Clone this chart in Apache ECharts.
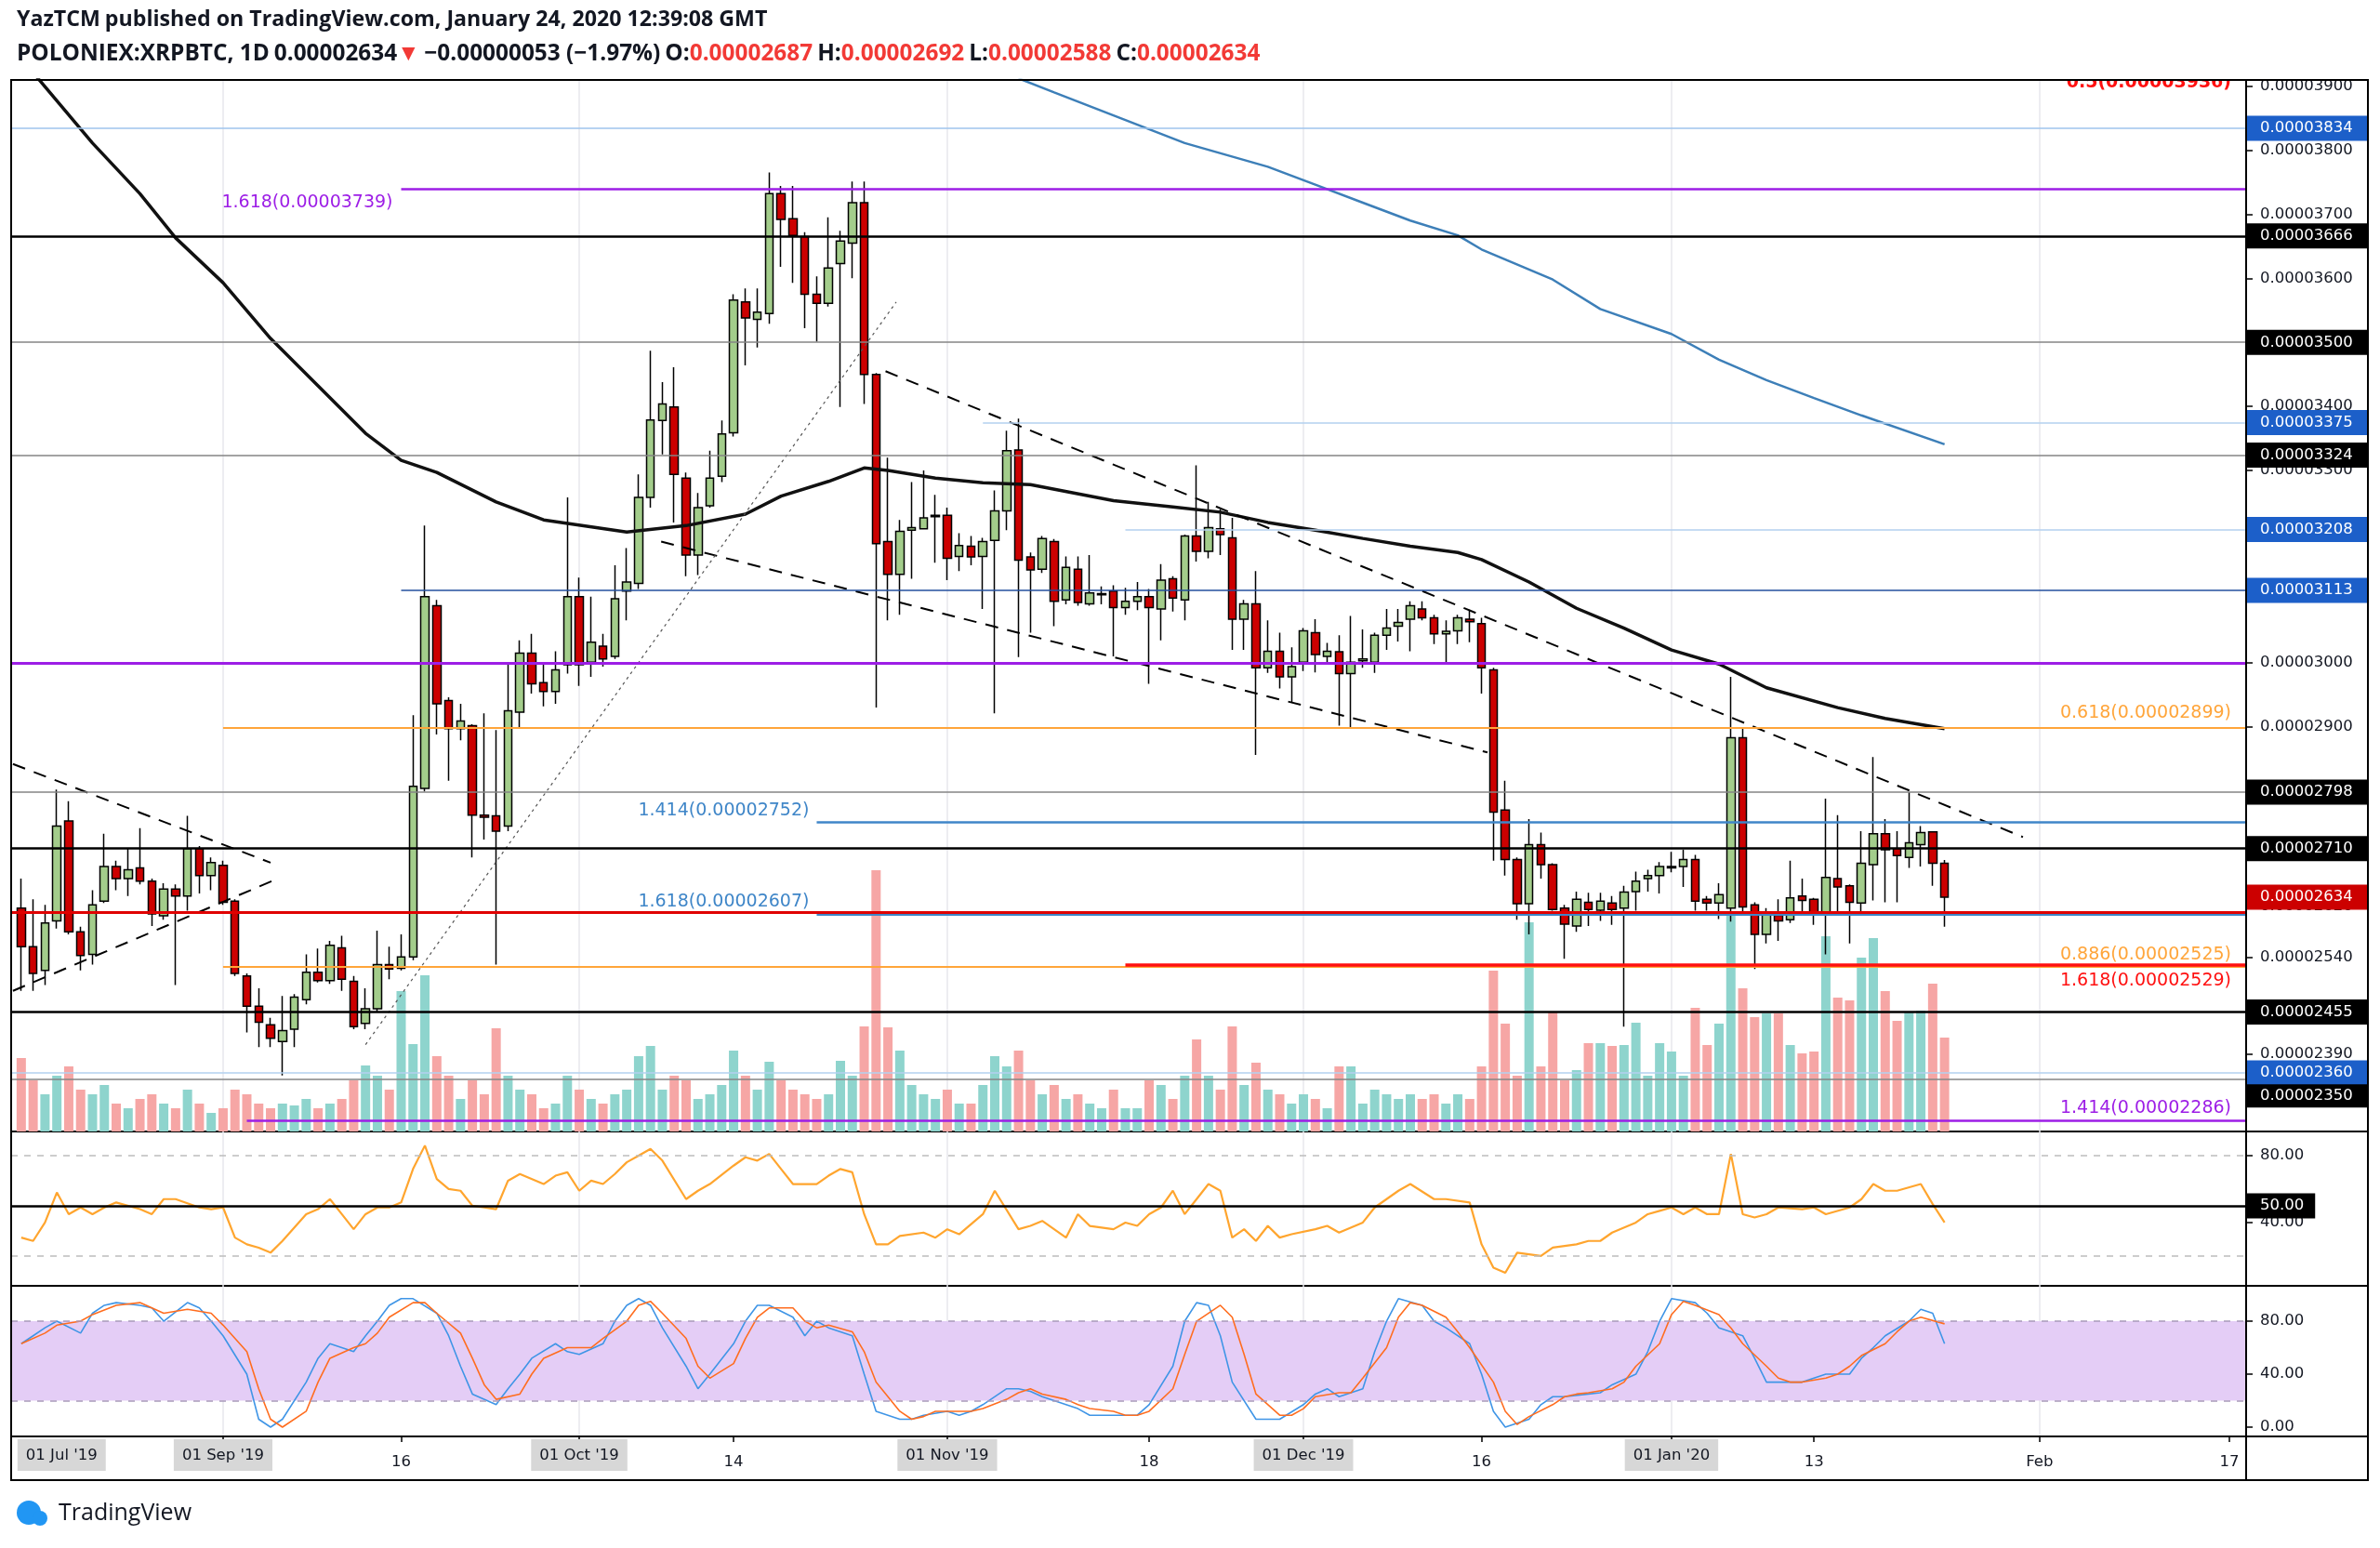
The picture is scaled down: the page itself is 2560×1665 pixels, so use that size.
<!DOCTYPE html>
<html>
<head>
<meta charset="utf-8">
<title>POLONIEX:XRPBTC 1D</title>
<script src="https://cdn.jsdelivr.net/npm/echarts@6.0.0/dist/echarts.min.js"></script>
<style>
html,body{margin:0;padding:0;background:#ffffff;}
#chart{width:2560px;height:1665px;}
</style>
</head>
<body>
<div id="chart"></div>
<script>
// Prices are in satoshi (1 sat = 0.00000001 BTC).
// Days are counted from 01 Sep 2019 (= day 0). First candle: 15 Aug 2019.
const FIRST_DAY = -17;

const open = [
2617,2557,2520,2597,2753,2580,2545,2628,2682,2663,
2680,2659,2605,2647,2636,2710,2668,2684,2628,2511,
2464,2435,2409,2428,2474,2517,2504,2555,2503,2437,
2460,2529,2523,2541,2804,3089,2941,2897,2902,2762,
2761,2745,2923,3015,2969,2955,2997,3103,3001,3026,
3010,3112,3124,3258,3378,3399,3288,3168,3245,3291,
3359,3563,3536,3545,3732,3693,3665,3575,3561,3623,
3655,3718,3450,3189,3138,3207,3209,3228,3230,3166,
3182,3166,3191,3237,3332,3165,3146,3189,3098,3146,
3092,3106,3112,3086,3096,3103,3084,3131,3098,3198,
3174,3209,3195,3068,3092,2992,3018,2978,3001,3047,
3010,3017,2983,3003,3001,3043,3057,3068,3084,3070,
3045,3050,3068,3061,2989,2770,2693,2624,2716,2685,
2617,2589,2626,2614,2625,2617,2643,2663,2668,2680,
2682,2693,2631,2625,2617,2883,2622,2576,2606,2599,
2636,2631,2608,2663,2652,2625,2685,2733,2710,2696,
2716,2736,2687];

const close = [
2557,2515,2594,2745,2580,2543,2622,2682,2663,2677,
2659,2608,2647,2636,2710,2668,2688,2626,2515,2464,
2439,2414,2426,2478,2517,2504,2559,2506,2432,2460,
2529,2522,2541,2807,3103,2936,2897,2909,2762,2759,
2737,2925,3015,2967,2955,2989,3103,2997,3032,3006,
3100,3126,3258,3379,3404,3294,3168,3242,3288,3357,
3566,3538,3547,3732,3692,3667,3575,3561,3616,3658,
3718,3450,3186,3138,3205,3211,3226,3230,3163,3183,
3165,3189,3237,3331,3160,3145,3194,3096,3149,3094,
3109,3108,3086,3096,3103,3086,3129,3101,3198,3174,
3211,3200,3068,3092,2992,3018,2978,2994,3050,3013,
3018,2983,3001,3006,3043,3054,3063,3089,3070,3045,
3049,3070,3064,2992,2767,2693,2624,2716,2685,2615,
2592,2631,2615,2628,2615,2642,2659,2668,2682,2682,
2693,2628,2625,2638,2883,2619,2576,2610,2597,2633,
2629,2608,2665,2650,2626,2687,2733,2708,2699,2719,
2735,2687,2634];

const high = [
2663,2631,2622,2802,2784,2588,2645,2733,2691,2710,
2742,2663,2656,2654,2761,2714,2696,2691,2631,2515,
2492,2446,2480,2483,2545,2554,2566,2574,2511,2492,
2582,2557,2576,2918,3214,3098,2946,2936,2904,2921,
2895,2998,3035,3045,2999,3018,3258,3133,3103,3045,
3152,3179,3294,3487,3438,3461,3297,3265,3331,3378,
3575,3584,3584,3765,3744,3744,3672,3603,3695,3674,
3751,3751,3452,3320,3223,3282,3300,3262,3242,3202,
3198,3195,3269,3362,3381,3172,3198,3193,3166,3166,
3168,3119,3121,3117,3126,3115,3154,3135,3200,3308,
3251,3239,3226,3098,3143,3066,3047,3024,3054,3068,
3031,3043,3073,3052,3047,3084,3084,3096,3096,3075,
3066,3075,3083,3070,2992,2816,2696,2756,2735,2687,
2622,2643,2641,2641,2636,2652,2674,2677,2689,2705,
2708,2700,2636,2656,2978,2899,2626,2617,2631,2691,
2663,2633,2788,2762,2654,2737,2853,2756,2737,2798,
2745,2737,2692];

const low = [
2488,2488,2497,2585,2576,2520,2529,2625,2645,2636,
2654,2589,2599,2497,2613,2640,2645,2622,2511,2423,
2400,2400,2356,2400,2467,2501,2499,2488,2428,2428,
2455,2506,2520,2536,2799,2888,2816,2879,2696,2724,
2529,2737,2897,2952,2932,2936,2983,2964,2978,2994,
3006,3066,3115,3242,3325,3219,3135,3137,3242,3282,
3353,3464,3492,3529,3618,3593,3522,3501,3556,3399,
3600,3404,2930,3066,3075,3131,3209,3156,3129,3143,
3152,3084,2921,3207,3009,3047,3140,3057,3091,3089,
3089,3091,3010,3075,3082,2967,3035,3080,3066,3158,
3163,3168,3020,3020,2856,2984,2960,2938,2987,2985,
2997,2902,2899,2992,2984,3020,3033,3018,3066,3029,
2997,3029,3032,2952,2691,2668,2599,2576,2663,2613,
2538,2580,2589,2597,2591,2432,2613,2643,2640,2673,
2650,2613,2613,2600,2596,2608,2522,2562,2566,2594,
2608,2591,2545,2610,2562,2608,2629,2626,2626,2680,
2682,2652,2588];

// relative volume (scale of the volume overlay)
const volume = [
79,55,40,60,70,45,40,50,30,25,
35,40,30,25,45,30,20,25,45,40,
30,25,30,28,35,25,30,35,55,71,
60,45,151,94,168,81,60,35,55,40,
111,60,45,40,25,30,60,45,35,30,
40,45,81,92,45,60,55,35,40,50,
87,60,45,75,55,45,40,35,40,76,
60,113,281,112,87,50,40,35,45,30,
30,50,81,70,87,55,40,50,35,40,
30,25,45,25,25,55,50,35,60,99,
60,45,113,50,74,45,40,30,40,35,
25,70,70,30,45,40,35,40,35,40,
30,40,35,70,173,116,60,225,70,128,
55,66,95,95,92,93,117,60,95,86,
60,133,93,116,232,154,123,127,127,93,
84,86,210,144,141,187,208,151,119,129,
130,159,101];

// moving averages [day, price]
const ma100 = [[-18,3965],[-11,3811],[-7,3732],[-4,3663],[0,3593],[4,3506],[8,3432],[12,3358],[15,3316],[18,3297],[23,3251],[27,3223],[34,3204],[39,3214],[44,3232],[47,3260],[51,3283],[54,3304],[56,3300],[60,3288],[64,3281],[68,3278],[75,3253],[80,3243],[84,3235],[88,3219],[92,3207],[96,3194],[100,3182],[104,3172],[106,3161],[110,3126],[114,3085],[118,3054],[122,3020],[126,2998],[130,2961],[136,2930],[140,2913],[145,2897]];
const ma200 = [[67,3912],[70,3890],[81,3811],[88,3774],[92,3746],[96,3718],[100,3690],[104,3667],[106,3645],[112,3598],[116,3552],[122,3513],[126,3473],[130,3441],[134,3413],[138,3386],[145,3341]];

// RSI [day, value]
const rsi = [[-17,31],[-16,29],[-15,40],[-14,58],[-13,45],[-12,49],[-11,45],[-10,49],[-9,52],[-7,48],[-6,45],[-5,54],[-4,54],[-2,49],[-1,48],[0,49],[1,31],[2,27],[3,25],[4,22],[5,29],[7,45],[8,48],[9,54],[10,45],[11,36],[12,45],[13,49],[14,49],[15,52],[16,72],[17,86],[18,66],[19,60],[20,59],[21,50],[22,49],[23,48],[24,65],[25,69],[27,63],[28,68],[29,70],[30,59],[31,65],[32,63],[33,69],[34,76],[35,80],[36,84],[37,77],[39,54],[40,59],[41,63],[43,74],[44,79],[45,77],[46,81],[47,72],[48,63],[50,63],[51,68],[52,72],[53,70],[54,45],[55,27],[56,27],[57,32],[59,34],[60,31],[61,36],[62,33],[64,45],[65,59],[67,36],[68,38],[69,41],[71,31],[72,45],[73,38],[75,36],[76,40],[77,38],[78,45],[79,49],[80,59],[81,45],[82,54],[83,63],[84,59],[85,31],[86,36],[87,29],[88,38],[89,31],[90,33],[92,36],[93,38],[94,34],[96,40],[97,49],[98,54],[99,59],[100,63],[102,54],[103,54],[105,52],[106,27],[107,13],[108,10],[109,22],[111,20],[112,25],[114,27],[115,29],[116,29],[117,34],[119,40],[120,45],[121,47],[122,49],[123,45],[124,49],[125,45],[126,45],[127,81],[128,45],[129,43],[130,45],[131,49],[133,48],[134,49],[135,45],[137,49],[138,54],[139,63],[140,59],[141,59],[143,63],[144,51],[145,40]];

// Stochastic RSI %K and %D [day, value]
const stochK = [[-17,63],[-16,69],[-15,75],[-14,80],[-12,71],[-11,86],[-10,92],[-9,94],[-7,92],[-6,90],[-5,80],[-3,94],[-2,90],[-1,80],[0,69],[2,40],[3,6],[4,0],[5,6],[7,34],[8,52],[9,63],[11,57],[12,69],[13,80],[14,92],[15,97],[16,97],[18,86],[19,69],[20,46],[21,25],[23,17],[24,29],[25,40],[26,52],[28,63],[29,57],[30,55],[32,63],[33,80],[34,92],[35,97],[36,92],[37,75],[39,46],[40,29],[41,40],[43,63],[44,80],[45,92],[46,92],[48,83],[49,69],[50,80],[51,75],[53,69],[54,40],[55,12],[57,6],[58,6],[59,9],[61,12],[62,9],[63,12],[64,17],[66,29],[67,29],[68,27],[69,23],[71,17],[72,14],[73,9],[75,9],[76,9],[77,9],[78,17],[80,46],[81,80],[82,94],[83,92],[84,69],[85,34],[87,6],[88,6],[89,6],[91,17],[92,25],[93,29],[94,23],[96,29],[97,57],[98,80],[99,97],[101,92],[102,80],[103,75],[105,63],[106,40],[107,12],[108,0],[110,6],[111,17],[112,23],[113,23],[115,25],[116,26],[117,32],[119,40],[120,57],[121,80],[122,97],[124,94],[125,86],[126,75],[128,69],[129,52],[130,34],[132,34],[133,34],[134,37],[135,40],[137,40],[138,52],[139,60],[140,69],[142,80],[143,89],[144,86],[145,63]];
const stochD = [[-17,63],[-15,71],[-14,77],[-12,80],[-11,85],[-9,92],[-7,94],[-5,86],[-3,89],[-1,86],[0,77],[2,57],[3,29],[4,6],[5,0],[7,12],[8,34],[9,52],[11,60],[12,63],[13,71],[14,83],[16,94],[17,94],[18,86],[20,71],[21,52],[22,32],[23,21],[25,25],[26,40],[27,52],[29,60],[30,60],[31,60],[32,67],[34,80],[35,92],[36,95],[37,86],[39,67],[40,46],[41,37],[43,48],[44,67],[45,83],[46,90],[48,90],[49,80],[50,75],[51,77],[53,72],[54,57],[55,34],[57,12],[58,6],[59,8],[60,12],[62,12],[63,12],[64,14],[66,21],[67,26],[68,29],[69,25],[71,21],[72,17],[73,14],[75,12],[76,9],[77,9],[78,12],[80,29],[81,55],[82,80],[84,92],[85,83],[86,55],[87,25],[89,9],[90,9],[91,14],[92,23],[94,26],[95,26],[96,37],[98,60],[99,83],[100,94],[101,92],[103,83],[104,72],[105,60],[107,34],[108,12],[109,2],[110,8],[112,17],[113,23],[114,25],[115,26],[117,29],[118,34],[119,46],[121,63],[122,85],[123,95],[124,92],[126,85],[127,75],[128,63],[130,46],[131,37],[132,34],[133,34],[135,37],[136,40],[137,46],[138,54],[140,63],[141,72],[142,80],[143,83],[145,78]];

// hand-drawn trend lines [day, price]
const triangleUpper = [[-17.7,2842],[4.0,2688]];
const triangleLower = [[-17.7,2488],[4.6,2663]];
const risingSupport = [[12.0,2404],[56.7,3563]];
const channelUpper = [[55.8,3455],[151.6,2728]];
const channelLower = [[36.9,3189],[106.5,2860]];

// horizontal levels (price) and the day where each drawing starts (null = from left edge)
const levelPrices = [3834,3739,3666,3500,3375,3324,3208,3113,3000,2899,2798,2752,2710,2611,2607,2525,2529,2455,2360,2350,2286];
const levelStart  = [null,15,null,null,64,null,76,15,null,0,null,50,null,null,50,0,76,null,null,null,2];
const lastPrice = 2634;
const fibLevelPrices = [3936,3739,2899,2752,2607,2529,2525,2286];
const fibLevelRatios = ['0.5','1.618','0.618','1.414','1.618','1.618','0.886','1.414'];

// axis ticks
const priceTicks = [3900,3800,3700,3600,3400,3300,3100,3000,2900,2620,2540,2390];
const rsiTicks = [80,40];
const stochTicks = [80,40,0];
const monthDays = [0,30,61,91,122,153];
const xTickDays = [0,15,30,43,61,78,91,106,122,134,153,169];
const xLabelDays = [-13.6,0,15,30,43,61,78,91,106,122,134,153,169];
const xLabelTexts = ["01 Jul '19","01 Sep '19","16","01 Oct '19","14","01 Nov '19","18","01 Dec '19","16","01 Jan '20","13","Feb","17"];

// ---------------------------------------------------------------------------
const X_MIN = -17.85, X_MAX = 170.4;
const Y_MIN = 2268.5, Y_MAX = 3909.5;
const FONT = 'DejaVu Sans';
const HFONT = 'Open Sans';
const C_UP = '#a3cd8b', C_DN = '#cc0000';
const V_UP = '#8ed4cd', V_DN = '#f6a6a5';
const BLUE_BOX = '#1c5fc9', BLACK_BOX = '#000000', RED_BOX = '#cc0000';
const PURPLE = '#9d1ee6', ORANGE = '#ffa53a', FIBBLUE = '#3f86c8';

const fmtPrice = v => (v / 1e8).toFixed(8);

const levelStyle = {
  3834: {color:'#9fc4ec', width:1.5, box:BLUE_BOX},
  3739: {color:PURPLE, width:2.5},
  3666: {color:'#000', width:2.5, box:BLACK_BOX},
  3500: {color:'#858585', width:1.5, box:BLACK_BOX},
  3375: {color:'#b3d0ef', width:1.5, box:BLUE_BOX},
  3324: {color:'#858585', width:1.5, box:BLACK_BOX},
  3208: {color:'#b3d0ef', width:1.5, box:BLUE_BOX},
  3113: {color:'#234f9e', width:1.5, box:BLUE_BOX},
  3000: {color:PURPLE, width:3},
  2899: {color:ORANGE, width:2},
  2798: {color:'#858585', width:1.5, box:BLACK_BOX},
  2752: {color:FIBBLUE, width:2.5},
  2710: {color:'#000', width:2.5, box:BLACK_BOX},
  2611: {color:'#e00000', width:3},
  2607: {color:FIBBLUE, width:2},
  2525: {color:ORANGE, width:2},
  2529: {color:'#ff1010', width:3.5},
  2455: {color:'#000', width:2.5, box:BLACK_BOX},
  2360: {color:'#b3d0ef', width:1.5, box:BLUE_BOX},
  2350: {color:'#858585', width:1.5, box:BLACK_BOX, pushDown:36},
  2286: {color:PURPLE, width:2.5}
};
// shiftY: text moved below (+) or above (-) its line for start-side labels
const fibStyle = {
  3936: {color:'#ff1010', pos:'insideEndBottom', distance:[16,-8], bold:true},
  3739: {color:PURPLE, pos:'start', distance:9, shiftY:15},
  2899: {color:ORANGE, pos:'insideEndTop', distance:[16,4]},
  2752: {color:FIBBLUE, pos:'start', distance:8, shiftY:-12},
  2607: {color:FIBBLUE, pos:'start', distance:8, shiftY:-14},
  2529: {color:'#ff1010', pos:'insideEndBottom', distance:[16,7]},
  2525: {color:ORANGE, pos:'insideEndTop', distance:[16,2]},
  2286: {color:PURPLE, pos:'insideEndTop', distance:[16,2]}
};

function boxLabel(bg, text, pushDown, padR) {
  const t = {color:'#ffffff', backgroundColor:bg, padding:[4, padR == null ? 16 : padR, 4, 15],
    fontSize:16.5, lineHeight:19, fontFamily:FONT};
  if (pushDown) {
    return {show:true, position:'end', distance:0, formatter:'{s| }\n{t|' + text + '}',
      rich:{s:{height:pushDown, lineHeight:pushDown, fontSize:10}, t:t}};
  }
  return Object.assign({show:true, position:'end', distance:0, formatter:text}, t);
}
function fibLabel(p) {
  const i = fibLevelPrices.indexOf(p);
  const s = fibStyle[p];
  const text = fibLevelRatios[i] + '(' + fmtPrice(p) + ')';
  const t = {color:s.color, fontSize:19, lineHeight:22, fontFamily:FONT, fontWeight: s.bold ? 'bold' : 'normal'};
  if (s.shiftY) {
    const gap = Math.abs(s.shiftY) * 2;
    const fmt = s.shiftY > 0 ? '{s| }\n{t|' + text + '}' : '{t|' + text + '}\n{s| }';
    return {show:true, position:s.pos, distance:s.distance, formatter:fmt,
      rich:{s:{height:gap, lineHeight:gap, fontSize:10}, t:t}};
  }
  return Object.assign({show:true, position:s.pos, distance:s.distance, formatter:text}, t);
}

const priceLineData = levelPrices.map((p, i) => {
  const s = levelStyle[p];
  const from = {coord:[levelStart[i] == null ? X_MIN : levelStart[i], p],
    lineStyle:{color:s.color, width:s.width, type:'solid'}};
  if (s.box) from.label = boxLabel(s.box, fmtPrice(p), s.pushDown);
  else if (fibStyle[p]) from.label = fibLabel(p);
  else from.label = {show:false};
  return [from, {coord:[X_MAX, p]}];
});
// current price tag
priceLineData.push([{coord:[X_MIN, lastPrice], lineStyle:{color:'rgba(0,0,0,0)', width:0},
  label: boxLabel(RED_BOX, fmtPrice(lastPrice))}, {coord:[X_MAX, lastPrice]}]);
// the 0.5 level lies above the visible range: its tag is pinned at the top edge
priceLineData.push([{coord:[X_MIN, Y_MAX], lineStyle:{color:'rgba(0,0,0,0)', width:0}, label: fibLabel(3936)},
  {coord:[X_MAX, Y_MAX]}]);

const candleData = open.map((o, i) => [FIRST_DAY + i, o, close[i], low[i], high[i]]);
const volData = volume.map((v, i) => ({value:[FIRST_DAY + i, v],
  itemStyle:{color: close[i] >= open[i] ? V_UP : V_DN}}));

function trend(data, opts) {
  return Object.assign({type:'line', xAxisIndex:0, yAxisIndex:0, data:data, symbol:'none',
    silent:true, z:4, lineStyle:{color:'#000', width:2, type:[14,10]}}, opts || {});
}

const gridBase = {left:12, width:2404, show:true, borderColor:'#000', borderWidth:2, backgroundColor:'rgba(0,0,0,0)'};
const splitX = {show:true, lineStyle:{color:'#e7e7ec', width:1.5}};
const yLine = {show:true, onZero:false, lineStyle:{color:'#000', width:2}};

const option = {
  animation:false,
  backgroundColor:'#ffffff',
  title:[
    {left:13, top:5, text:'{b|YazTCM} {n|published on TradingView.com, January 24, 2020 12:39:08 GMT}',
      textStyle:{rich:{
        b:{fontFamily:HFONT, fontSize:23.2, fontWeight:'bold', color:'#131722'},
        n:{fontFamily:HFONT, fontSize:23.2, color:'#131722'}}}},
    {left:13, top:41, text:'{b|POLONIEX:XRPBTC, 1D} {n|0.00002634}{r|▼} {n|−0.00000053 (−1.97%)} {b|O:}{r|0.00002687} {b|H:}{r|0.00002692} {b|L:}{r|0.00002588} {b|C:}{r|0.00002634}',
      textStyle:{rich:{
        b:{fontFamily:HFONT, fontSize:24.4, fontWeight:'bold', color:'#131722'},
        n:{fontFamily:HFONT, fontSize:24.4, color:'#131722'},
        r:{fontFamily:HFONT, fontSize:24.4, color:'#f23a36'}}}}
  ],
  grid:[
    Object.assign({top:86, height:1131}, gridBase),
    Object.assign({top:1217, height:166}, gridBase),
    Object.assign({top:1383, height:162}, gridBase)
  ],
  xAxis:[
    {type:'value', gridIndex:0, min:X_MIN, max:X_MAX, axisLine:{show:false, onZero:false},
      axisTick:{show:false, customValues:monthDays}, axisLabel:{show:false}, splitLine:splitX},
    {type:'value', gridIndex:1, min:X_MIN, max:X_MAX, axisLine:{show:false, onZero:false},
      axisTick:{show:false, customValues:monthDays}, axisLabel:{show:false}, splitLine:splitX},
    {type:'value', gridIndex:2, min:X_MIN, max:X_MAX, position:'bottom',
      axisLine:{show:false, onZero:false}, splitLine:{show:false},
      axisTick:{show:true, customValues:xTickDays, length:6, lineStyle:{color:'#000', width:1.5}},
      axisLabel:{show:true, customValues:xLabelDays, margin:10, color:'#131722',
        fontFamily:FONT, fontSize:16.5,
        formatter: v => {
          const i = xLabelDays.findIndex(d => Math.abs(d - v) < 1e-6);
          if (i < 0) return '';
          const t = xLabelTexts[i];
          return t.indexOf('01 ') === 0 ? '{m|' + t + '}' : '{d|' + t + '}';
        },
        rich:{
          m:{backgroundColor:'#d7d7d7', padding:[9,9,8,9], fontFamily:FONT, fontSize:16.5, color:'#131722', lineHeight:20},
          d:{padding:[15,0,0,0], fontFamily:FONT, fontSize:16.5, color:'#131722', lineHeight:20}
        }}},
    {type:'value', gridIndex:2, min:X_MIN, max:X_MAX, position:'top', axisLine:{show:false, onZero:false},
      axisTick:{show:false, customValues:monthDays}, axisLabel:{show:false}, splitLine:splitX}
  ],
  yAxis:[
    {type:'value', gridIndex:0, position:'right', min:Y_MIN, max:Y_MAX, splitLine:{show:false},
      axisLine:yLine,
      axisTick:{show:true, customValues:priceTicks, length:7, lineStyle:{color:'#000', width:1.5}},
      axisLabel:{show:true, customValues:priceTicks, margin:15, color:'#131722', fontFamily:FONT,
        fontSize:16.5, formatter: v => fmtPrice(v)}},
    {type:'value', gridIndex:0, show:false, min:0, max:1131, axisLine:{show:false, onZero:false}},
    {type:'value', gridIndex:1, position:'right', min:2.2, max:94.4, splitLine:{show:false},
      axisLine:yLine,
      axisTick:{show:true, customValues:rsiTicks, length:7, lineStyle:{color:'#000', width:1.5}},
      axisLabel:{show:true, customValues:rsiTicks, margin:15, color:'#131722', fontFamily:FONT,
        fontSize:16.5, formatter: v => v.toFixed(2)}},
    {type:'value', gridIndex:2, position:'right', min:-7, max:106.7, splitLine:{show:false},
      axisLine:yLine,
      axisTick:{show:true, customValues:stochTicks, length:7, lineStyle:{color:'#000', width:1.5}},
      axisLabel:{show:true, customValues:stochTicks, margin:15, color:'#131722', fontFamily:FONT,
        fontSize:16.5, formatter: v => v.toFixed(2)}}
  ],
  series:[
    {type:'bar', name:'Volume', xAxisIndex:0, yAxisIndex:1, data:volData, barWidth:10, silent:true, z:1},
    {type:'candlestick', name:'XRPBTC', xAxisIndex:0, yAxisIndex:0, data:candleData, barWidth:9, z:3,
      itemStyle:{color:C_UP, color0:C_DN, borderColor:'#000', borderColor0:'#000', borderWidth:1.5},
      markLine:{silent:true, symbol:'none', animation:false, data:priceLineData}},
    {type:'line', name:'MA100', xAxisIndex:0, yAxisIndex:0, data:ma100, symbol:'none', silent:true, z:4,
      lineStyle:{color:'#111', width:3.5}},
    {type:'line', name:'MA200', xAxisIndex:0, yAxisIndex:0, data:ma200, symbol:'none', silent:true, z:4,
      lineStyle:{color:'#3d7fb8', width:2.5}},
    trend(triangleUpper),
    trend(triangleLower),
    trend(channelUpper),
    trend(channelLower),
    trend(risingSupport, {lineStyle:{color:'#555', width:1.2, type:[3,4]}}),
    {type:'line', name:'RSI', xAxisIndex:1, yAxisIndex:2, data:rsi, symbol:'none', silent:true, z:3,
      lineStyle:{color:'#ffa52e', width:2.2},
      markLine:{silent:true, symbol:'none', animation:false, data:[
        {yAxis:80, lineStyle:{color:'#bdbdbd', width:1.5, type:[7,7]}, label:{show:false}},
        {yAxis:20, lineStyle:{color:'#bdbdbd', width:1.5, type:[7,7]}, label:{show:false}},
        {yAxis:50, lineStyle:{color:'#000', width:2.5, type:'solid'}, label:boxLabel(BLACK_BOX, '50.00', 0, 12)}
      ]}},
    {type:'line', name:'%K', xAxisIndex:2, yAxisIndex:3, data:stochK, symbol:'none', silent:true, z:3,
      lineStyle:{color:'#3f95e6', width:1.6},
      markArea:{silent:true, itemStyle:{color:'#e4cdf6'}, data:[[{yAxis:20},{yAxis:80}]]},
      markLine:{silent:true, symbol:'none', animation:false, data:[
        {yAxis:80, lineStyle:{color:'#a99abb', width:1.5, type:[7,7]}, label:{show:false}},
        {yAxis:20, lineStyle:{color:'#a99abb', width:1.5, type:[7,7]}, label:{show:false}}
      ]}},
    {type:'line', name:'%D', xAxisIndex:2, yAxisIndex:3, data:stochD, symbol:'none', silent:true, z:3,
      lineStyle:{color:'#ff6d1f', width:1.6}}
  ],
  graphic:[
    {type:'rect', z:100, silent:true, shape:{x:2100, y:0, width:316, height:85}, style:{fill:'#ffffff'}},
    {type:'rect', z:101, silent:true, shape:{x:12, y:86, width:2535, height:1506}, style:{fill:'none', stroke:'#000', lineWidth:2}},
    {type:'line', z:101, silent:true, shape:{x1:2416, y1:1217, x2:2547, y2:1217}, style:{stroke:'#000', lineWidth:2}},
    {type:'line', z:101, silent:true, shape:{x1:2416, y1:1383, x2:2547, y2:1383}, style:{stroke:'#000', lineWidth:2}},
    {type:'line', z:101, silent:true, shape:{x1:12, y1:1545, x2:2547, y2:1545}, style:{stroke:'#000', lineWidth:2}},
    {type:'line', z:101, silent:true, shape:{x1:2416, y1:86, x2:2416, y2:1592}, style:{stroke:'#000', lineWidth:2}},
    {type:'group', left:18, top:1614, silent:true, children:[
      {type:'circle', shape:{cx:16, cy:16, r:13}, style:{fill:'#2196f3'}},
      {type:'circle', shape:{cx:28, cy:22, r:8}, style:{fill:'#2196f3'}},
      {type:'text', style:{text:'TradingView', x:48, y:17, fill:'#131722', font:'25px "Open Sans"', verticalAlign:'middle'}}
    ]}
  ]
};

const chart = echarts.init(document.getElementById('chart'), null, {renderer:'canvas', width:2560, height:1665});
chart.setOption(option);
</script>
</body>
</html>
